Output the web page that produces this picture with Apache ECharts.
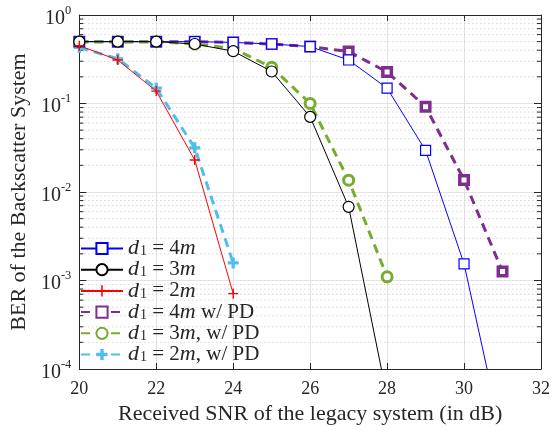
<!DOCTYPE html>
<html>
<head>
<meta charset="utf-8">
<script src="https://cdn.jsdelivr.net/npm/echarts@6/dist/echarts.min.js"></script>
<style>html,body{margin:0;padding:0;background:#fff;}#c{width:553px;height:430px;}</style>
</head>
<body>
<div id="c"></div>
<script>
// ---- data ----
const snr = [20, 21, 22, 23, 24, 25, 26, 27, 28, 29, 30, 31];
const ber4m = [0.5, 0.5, 0.5, 0.5, 0.49, 0.47, 0.44, 0.31, 0.149, 0.0295, 0.00154, 1.6e-5];
const ber3m = [0.5, 0.5, 0.5, 0.47, 0.39, 0.23, 0.0706, 0.0068, 4.8e-5];
const ber2m = [0.45, 0.31, 0.138, 0.023, 0.00071];
const ber4mPD = [0.5, 0.5, 0.5, 0.5, 0.49, 0.47, 0.44, 0.386, 0.227, 0.092, 0.0137, 0.00126];
const ber3mPD = [0.5, 0.5, 0.5, 0.47, 0.42, 0.256, 0.1, 0.0136, 0.0011];
const ber2mPD = [0.43, 0.32, 0.149, 0.0316, 0.00158];
const seriesNames = ['d1 = 4m', 'd1 = 3m', 'd1 = 2m', 'd1 = 4m w/ PD', 'd1 = 3m, w/ PD', 'd1 = 2m, w/ PD'];
const xTicks = [20, 22, 24, 26, 28, 30, 32];
const yMinor = [];
[-4, -3, -2, -1].forEach(e => { for (let k = 2; k <= 9; k++) yMinor.push(k * Math.pow(10, e)); });

const FONT = '"Liberation Serif", "DejaVu Serif", serif';
const AX = '#262626';
const pair = (xs, ys) => ys.map((y, i) => [xs[i], y]);
const plusThin = 'path://M4.3,0H5.7V10H4.3Z M0,4.3H10V5.7H0Z';
const plusThick = 'path://M3.5,0H6.5V10H3.5Z M0,3.5H10V6.5H0Z';

const legendFmt = {
  'd1 = 4m': '{i|d}{sub|1}{r| = 4}{i|m}',
  'd1 = 3m': '{i|d}{sub|1}{r| = 3}{i|m}',
  'd1 = 2m': '{i|d}{sub|1}{r| = 2}{i|m}',
  'd1 = 4m w/ PD': '{i|d}{sub|1}{r| = 4}{i|m}{r| w/ PD}',
  'd1 = 3m, w/ PD': '{i|d}{sub|1}{r| = 3}{i|m}{r|, w/ PD}',
  'd1 = 2m, w/ PD': '{i|d}{sub|1}{r| = 2}{i|m}{r|, w/ PD}'
};

const chart = echarts.init(document.getElementById('c'), null, {renderer: 'canvas'});

const option = {
  animation: false,
  backgroundColor: '#fff',
  grid: {show: false, left: 76.5, right: 11, top: 15, bottom: 56},
  legend: {
    data: seriesNames,
    orient: 'vertical',
    left: 80, top: 237.5,
    padding: 0,
    itemWidth: 42, itemHeight: 14, itemGap: -0.8,
    formatter: n => legendFmt[n],
    textStyle: {
      fontFamily: FONT, fontSize: 21, color: AX, lineHeight: 18,
      rich: {
        i: {fontFamily: FONT, fontSize: 22, fontStyle: 'italic', color: AX, lineHeight: 18},
        sub: {fontFamily: FONT, fontSize: 14, color: AX, lineHeight: 18, padding: [6, 0, 0, 1]},
        r: {fontFamily: FONT, fontSize: 21, color: AX, lineHeight: 18}
      }
    }
  },
  xAxis: [{
    type: 'value', min: 20, max: 32, interval: 2,
    axisLine: {show: true, onZero: false, lineStyle: {color: AX, width: 1}},
    axisTick: {show: true, inside: true, length: 6, lineStyle: {color: AX}},
    axisLabel: {fontFamily: FONT, fontSize: 18, color: AX, margin: 11,
      customValues: xTicks},
    splitLine: {show: true, lineStyle: {color: '#e3e3e3', width: 1}},
    name: 'Received SNR of the legacy system (in dB)',
    nameLocation: 'middle', nameGap: 34,
    nameTextStyle: {fontFamily: FONT, fontSize: 22, color: AX}
  }, {
    type: 'value', min: 20, max: 32, interval: 2, position: 'top',
    axisLine: {show: true, onZero: false, lineStyle: {color: AX, width: 1}},
    axisTick: {show: true, inside: true, length: 6, lineStyle: {color: AX}},
    axisLabel: {show: false}, splitLine: {show: false}
  }],
  yAxis: [{
    type: 'log', logBase: 10, min: 1e-4, max: 1,
    axisLine: {show: true, onZero: false, lineStyle: {color: AX, width: 1}},
    axisTick: {show: true, inside: true, length: 7, lineStyle: {color: AX}},
    axisLabel: {
      margin: 8, color: AX,
      formatter: v => '{b|10}{s|' + Math.round(Math.log10(v)) + '}',
      rich: {
        b: {fontFamily: FONT, fontSize: 20, color: AX, padding: [7, 0, 0, 0]},
        s: {fontFamily: FONT, fontSize: 12.5, color: AX, padding: [0, 0, 9, 0]}
      }
    },
    splitLine: {show: true, lineStyle: {color: '#e3e3e3', width: 1}},
    name: 'BER of the Backscatter System',
    nameLocation: 'middle', nameGap: 43,
    nameTextStyle: {fontFamily: FONT, fontSize: 22, color: AX}
  }, {
    type: 'log', logBase: 10, min: 1e-4, max: 1, position: 'right',
    axisLine: {show: true, onZero: false, lineStyle: {color: AX, width: 1}},
    axisTick: {show: true, inside: true, length: 7, lineStyle: {color: AX}},
    axisLabel: {show: false}, splitLine: {show: false}
  }],
  series: [
    {
      type: 'custom', name: 'minor', silent: true, z: 1,
      xAxisIndex: 0, yAxisIndex: 0,
      encode: {y: 0},
      data: yMinor.map(v => [v]),
      clip: false,
      renderItem: function (params, api) {
        const v = api.value(0);
        const p0 = api.coord([20, v]);
        const p1 = api.coord([32, v]);
        return {type: 'group', children: [
          {type: 'line', shape: {x1: p0[0] + 1, y1: p0[1], x2: p1[0] - 1, y2: p1[1]},
            style: {stroke: '#c4c4c4', lineWidth: 1, lineDash: [1, 3]}},
          {type: 'line', shape: {x1: p0[0], y1: p0[1], x2: p0[0] + 4, y2: p0[1]},
            style: {stroke: AX, lineWidth: 1}},
          {type: 'line', shape: {x1: p1[0] - 4, y1: p1[1], x2: p1[0], y2: p1[1]},
            style: {stroke: AX, lineWidth: 1}}
        ]};
      }
    },
    {
      name: seriesNames[0], type: 'line', data: pair(snr, ber4m), z: 3,
      symbol: 'rect', symbolSize: 10,
      lineStyle: {color: '#0000ff', width: 1},
      itemStyle: {color: '#ffffff', borderColor: '#0000ff', borderWidth: 1.2}
    },
    {
      name: seriesNames[1], type: 'line', data: pair(snr, ber3m), z: 3,
      symbol: 'circle', symbolSize: 11,
      lineStyle: {color: '#000000', width: 1},
      itemStyle: {color: '#ffffff', borderColor: '#000000', borderWidth: 1.2}
    },
    {
      name: seriesNames[2], type: 'line', data: pair(snr, ber2m), z: 3,
      symbol: plusThin, symbolSize: 10,
      lineStyle: {color: '#ff0000', width: 1},
      itemStyle: {color: '#ff0000', borderWidth: 0}
    },
    {
      name: seriesNames[3], type: 'line', data: pair(snr, ber4mPD), z: 2,
      symbol: 'rect', symbolSize: 8.5,
      lineStyle: {color: '#7e2f8e', width: 3, type: [9, 6]},
      itemStyle: {color: '#ffffff', borderColor: '#7e2f8e', borderWidth: 3.5}
    },
    {
      name: seriesNames[4], type: 'line', data: pair(snr, ber3mPD), z: 2,
      symbol: 'circle', symbolSize: 10,
      lineStyle: {color: '#77ac30', width: 3, type: [9, 6]},
      itemStyle: {color: '#ffffff', borderColor: '#77ac30', borderWidth: 3}
    },
    {
      name: seriesNames[5], type: 'line', data: pair(snr, ber2mPD), z: 2,
      symbol: plusThick, symbolSize: 11,
      lineStyle: {color: '#4dbeee', width: 3, type: [9, 6]},
      itemStyle: {color: '#4dbeee', borderWidth: 0}
    }
  ]
};
chart.setOption(option);
</script>
</body>
</html>
